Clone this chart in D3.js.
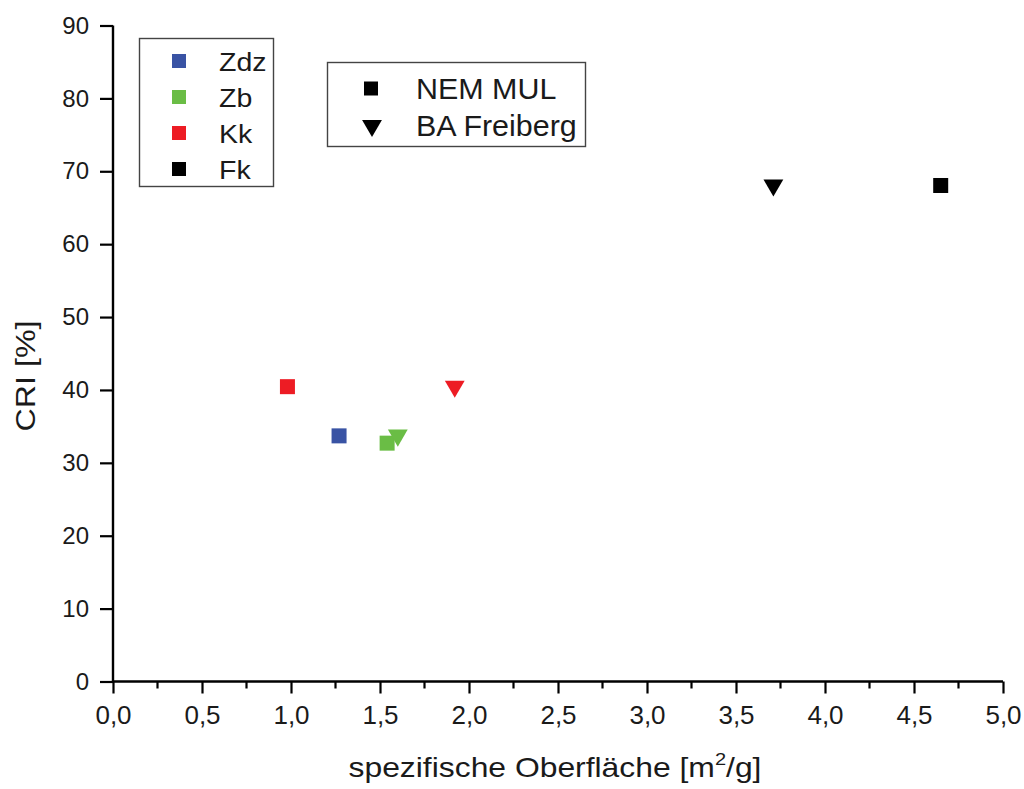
<!DOCTYPE html>
<html>
<head>
<meta charset="utf-8">
<script src="https://cdn.jsdelivr.net/npm/d3@7"></script>
<style>
  html, body { margin: 0; padding: 0; background: #fff; }
  svg { display: block; font-family: "Liberation Sans", Arial, sans-serif; }
</style>
</head>
<body>
<svg id="chart" width="1024" height="789"></svg>
<script>
// Coke samples: specific surface area vs. CRI, two laboratories
const samples = ["Zdz", "Zb", "Kk", "Fk"];
const sampleColors = ["#3953a4", "#6abd45", "#ed1c24", "#000000"];
const labs = ["NEM MUL", "BA Freiberg"];

// NEM MUL (squares)
const nemSurface = [1.27, 1.54, 0.98, 4.65];
const nemCRI = [33.7, 32.7, 40.45, 68.05];
// BA Freiberg (down triangles)
const baSurface = [null, 1.60, 1.92, 3.71];
const baCRI = [null, 33.4, 40.1, 67.7];

const xTicks = [0, 0.5, 1, 1.5, 2, 2.5, 3, 3.5, 4, 4.5, 5];
const yTicks = [0, 10, 20, 30, 40, 50, 60, 70, 80, 90];

const svg = d3.select("#chart");
const textColor = "#1a1a1a";

const x = d3.scaleLinear().domain([0, 5]).range([113, 1003]);
const y = d3.scaleLinear().domain([0, 90]).range([681.5, 25.5]);

// down-pointing triangle centred on its bounding box
const downTriangle = {
  draw(ctx, size) {
    const w = Math.sqrt(size * 4 / Math.sqrt(3));
    const h = w * Math.sqrt(3) / 2;
    ctx.moveTo(-w / 2, -h / 2);
    ctx.lineTo(w / 2, -h / 2);
    ctx.lineTo(0, h / 2);
    ctx.closePath();
  }
};
const tri = d3.symbol().type(downTriangle).size(170);
const sq = 15;

// horizontally widened text helper
function wideText(parent, tx, ty, factor, size, anchor, rotate) {
  const g = parent.append("g")
    .attr("transform", `translate(${tx},${ty})${rotate ? ` rotate(${rotate})` : ""} scale(${factor},1)`);
  return g.append("text").attr("font-size", size).attr("fill", textColor)
    .attr("text-anchor", anchor);
}

// x axis with minor ticks
const fmt = d => d3.format(".1f")(d).replace(".", ",");
const xAxis = d3.axisBottom(x).tickValues(xTicks).tickFormat(fmt).tickSize(12);
const gx = svg.append("g").attr("transform", `translate(0,${y(0)})`).call(xAxis);
gx.selectAll(".tick text").attr("y", 42.5).attr("dy", 0).attr("font-size", 26);
const minorX = d3.range(0.25, 5, 0.5);
gx.selectAll(".minor").data(minorX).enter().append("line")
  .attr("x1", d => x(d)).attr("x2", d => x(d)).attr("y1", 0).attr("y2", 7)
  .attr("stroke", "#000").attr("stroke-width", 2.2);

const yAxis = d3.axisLeft(y).tickValues(yTicks).tickFormat(d3.format("d")).tickSize(13).tickPadding(11);
const gy = svg.append("g").attr("transform", `translate(${x(0)},0)`).call(yAxis);
gy.selectAll(".tick text").attr("font-size", 24);

[gx, gy].forEach(g => {
  g.select(".domain").attr("stroke", "#000").attr("stroke-width", 2.4);
  g.selectAll(".tick line").attr("stroke", "#000").attr("stroke-width", 2.2);
  g.selectAll(".tick text").attr("fill", textColor)
    .attr("font-family", "Liberation Sans, Arial, sans-serif");
});
gx.select(".domain").attr("d", `M${x(0)},0H${x(5)}`);
gy.select(".domain").attr("d", `M0,${y(0)}V${y(90)}`);

// axis titles
const xTitle = wideText(svg, (x(0) + x(5)) / 2 - 3, 777, 1.18, 27, "middle");
xTitle.append("tspan").text("spezifische Oberfläche [m");
xTitle.append("tspan").attr("font-size", 17).attr("dy", -12).text("2");
xTitle.append("tspan").attr("dy", 12).text("/g]");

wideText(svg, 35, 376, 1.15, 28, "middle", -90).text("CRI [%]");

// markers
svg.append("g").selectAll("rect").data(samples).enter().append("rect")
  .attr("x", (d, i) => x(nemSurface[i]) - sq / 2)
  .attr("y", (d, i) => y(nemCRI[i]) - sq / 2)
  .attr("width", sq).attr("height", sq)
  .attr("fill", (d, i) => sampleColors[i]);

svg.append("g").selectAll("path").data(samples.filter((d, i) => baSurface[i] !== null)).enter().append("path")
  .attr("d", tri)
  .attr("transform", d => {
    const i = samples.indexOf(d);
    return `translate(${x(baSurface[i])},${y(baCRI[i])})`;
  })
  .attr("fill", d => sampleColors[samples.indexOf(d)]);

// legend: samples
const lg1 = svg.append("g");
lg1.append("rect").attr("x", 139.5).attr("y", 38.5).attr("width", 134).attr("height", 148)
  .attr("fill", "#fff").attr("stroke", "#444").attr("stroke-width", 1.4);
samples.forEach((s, i) => {
  const cy = 61 + i * 36;
  lg1.append("rect").attr("x", 172).attr("y", cy - 7).attr("width", 14).attr("height", 14)
    .attr("fill", sampleColors[i]);
  wideText(lg1, 219, cy + 10, 1.14, 25, "start").text(s);
});

// legend: laboratories
const lg2 = svg.append("g");
lg2.append("rect").attr("x", 327.5).attr("y", 62.5).attr("width", 258).attr("height", 84)
  .attr("fill", "#fff").attr("stroke", "#444").attr("stroke-width", 1.4);
lg2.append("rect").attr("x", 364).attr("y", 81.5).attr("width", 14).attr("height", 14).attr("fill", "#000");
lg2.append("path").attr("d", tri).attr("transform", "translate(372,128.5)").attr("fill", "#000");
labs.forEach((l, i) => {
  wideText(lg2, 416, 98.5 + i * 37, 1.05, 29, "start").text(l);
});
</script>
</body>
</html>
